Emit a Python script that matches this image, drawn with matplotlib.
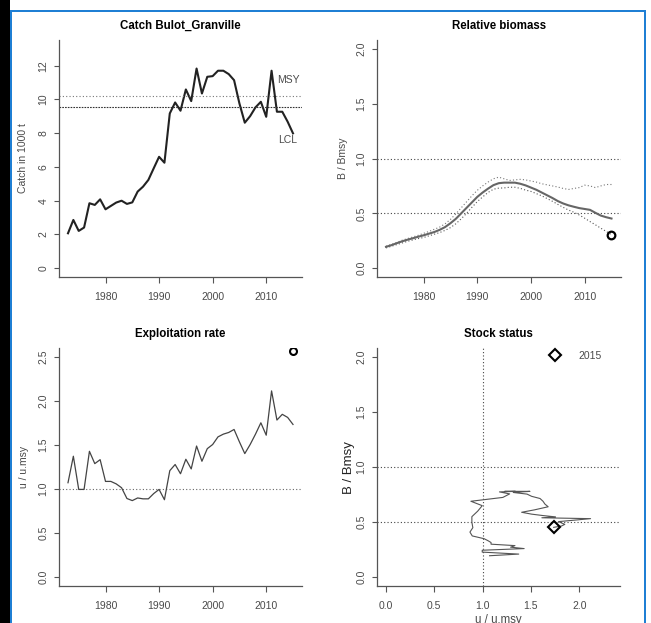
import matplotlib
matplotlib.use("Agg")
import matplotlib.pyplot as plt
from matplotlib.lines import Line2D
from matplotlib.patches import Rectangle

plt.rcParams["font.family"] = ["Liberation Sans", "DejaVu Sans"]

years = list(range(1973, 2016))

catch = [2.07, 2.86, 2.21, 2.41, 3.85, 3.75, 4.08, 3.49, 3.69, 3.89,
         4.00, 3.81, 3.90, 4.54, 4.83, 5.23, 5.92, 6.60, 6.25, 9.17,
         9.82, 9.33, 10.59, 9.90, 11.83, 10.35, 11.34, 11.38, 11.70, 11.70,
         11.50, 11.14, 9.76, 8.62, 9.01, 9.53, 9.86, 8.97, 11.70, 9.27,
         9.27, 8.68, 7.99]
msy = 10.22
lcl = 9.57

bbmsy = [0.195, 0.21, 0.228, 0.245, 0.26, 0.273, 0.287, 0.30, 0.315, 0.33,
         0.35, 0.375, 0.41, 0.45, 0.50, 0.55, 0.60, 0.65, 0.69, 0.725,
         0.757, 0.775, 0.78, 0.78, 0.78, 0.77, 0.755, 0.735, 0.715, 0.69,
         0.665, 0.64, 0.612, 0.59, 0.573, 0.56, 0.548, 0.54, 0.532, 0.505,
         0.48, 0.465, 0.453]
bbmsy_hi = [0.20, 0.217, 0.235, 0.255, 0.27, 0.285, 0.30, 0.318, 0.335, 0.355,
            0.375, 0.405, 0.445, 0.495, 0.55, 0.605, 0.66, 0.71, 0.75, 0.785,
            0.815, 0.83, 0.815, 0.80, 0.805, 0.81, 0.805, 0.795, 0.785, 0.77,
            0.76, 0.75, 0.74, 0.727, 0.718, 0.727, 0.735, 0.757, 0.75, 0.735,
            0.75, 0.763, 0.763]
bbmsy_lo = [0.185, 0.20, 0.215, 0.23, 0.245, 0.258, 0.27, 0.28, 0.295, 0.31,
            0.325, 0.345, 0.37, 0.405, 0.45, 0.50, 0.555, 0.607, 0.65, 0.69,
            0.72, 0.73, 0.732, 0.738, 0.738, 0.728, 0.712, 0.70, 0.68, 0.66,
            0.635, 0.61, 0.582, 0.555, 0.53, 0.51, 0.485, 0.456, 0.425, 0.396,
            0.365, 0.336, 0.306]
b_point = (2015, 0.30)

uumsy = [1.073, 1.374, 0.997, 0.997, 1.43, 1.29, 1.335, 1.088, 1.088, 1.06,
         1.016, 0.894, 0.87, 0.90, 0.89, 0.89, 0.95, 0.997, 0.88, 1.21,
         1.28, 1.175, 1.34, 1.23, 1.49, 1.317, 1.46, 1.507, 1.594, 1.625,
         1.644, 1.678, 1.537, 1.404, 1.507, 1.625, 1.754, 1.613, 2.116, 1.785,
         1.85, 1.815, 1.735]
u_point = (2015, 2.572)

W, H = 651, 623
fig = plt.figure(figsize=(W / 100, H / 100), dpi=100)

txt = "#4a4a4a"
axc = "#555555"
dot = (0, (1, 2))


def panel(x0, y0, x1, y1):
    ax = fig.add_axes([x0 / W, 1 - y1 / H, (x1 - x0) / W, (y1 - y0) / H])
    for s in ("top", "right"):
        ax.spines[s].set_visible(False)
    for s in ("left", "bottom"):
        ax.spines[s].set_color(axc)
        ax.spines[s].set_linewidth(0.9)
    ax.tick_params(colors=axc, labelcolor=txt, labelsize=7.5, width=0.8)
    ax.tick_params(axis="x", length=4.5, pad=6.5)
    ax.tick_params(axis="y", length=3.5, pad=4)
    return ax


def year_axis(ax):
    ax.set_xlim(1973 - 0.04 * 42, 2015 + 0.04 * 42)
    ax.set_xticks([1980, 1990, 2000, 2010])


def y_ticks(ax, ticks, fmt):
    ax.set_yticks(ticks, [fmt.format(t) for t in ticks], rotation=90, va="center")


# Catch
ax1 = panel(59, 40, 302, 277)
ax1.plot(years, catch, color="#222222", lw=1.5)
ax1.axhline(msy, color="#777777", lw=0.8, ls=dot)
ax1.axhline(lcl, color="#333333", lw=0.8, ls=(0, (1.5, 1)))
ax1.text(2012.1, 11.15, "MSY", color=txt, fontsize=7.5, ha="left", va="center")
ax1.text(2012.3, 7.6, "LCL", color=txt, fontsize=7.5, ha="left", va="center")
year_axis(ax1)
ax1.set_ylim(-0.52, 13.52)
y_ticks(ax1, [0, 2, 4, 6, 8, 10, 12], "{:d}")
ax1.set_title("Catch Bulot_Granville", fontsize=8.3, fontweight="bold", pad=8)
ax1.set_ylabel("Catch in 1000 t", color=txt, fontsize=7.5, labelpad=7.5)

# Relative biomass
ax2 = panel(377, 40, 620.5, 277)
ax2.axhline(1.0, color="#444444", lw=0.8, ls=dot)
ax2.axhline(0.5, color="#444444", lw=0.8, ls=dot)
ax2.plot(years, bbmsy_hi, color="#777777", lw=0.8, ls=dot)
ax2.plot(years, bbmsy_lo, color="#555555", lw=0.8, ls=dot)
ax2.plot(years, bbmsy, color="#666666", lw=1.5)
ax2.plot(*b_point, marker="o", ms=5.5, mfc="none", mec="black", mew=1.6, ls="none")
year_axis(ax2)
ax2.set_ylim(-0.08, 2.08)
y_ticks(ax2, [0.0, 0.5, 1.0, 1.5, 2.0], "{:.1f}")
ax2.set_title("Relative biomass", fontsize=8.3, fontweight="bold", pad=8)
ax2.set_ylabel("B / Bmsy", color=txt, fontsize=7.5, labelpad=6.5)

# Exploitation rate
ax3 = panel(59, 348.3, 302, 586)
ax3.axhline(1.0, color="#666666", lw=0.8, ls=dot)
ax3.plot(years, uumsy, color="#444444", lw=0.9)
ax3.plot(*u_point, marker="o", ms=5, mfc="none", mec="black", mew=1.5, ls="none")
year_axis(ax3)
ax3.set_ylim(-0.1, 2.6)
y_ticks(ax3, [0.0, 0.5, 1.0, 1.5, 2.0, 2.5], "{:.1f}")
ax3.set_title("Exploitation rate", fontsize=8.3, fontweight="bold", pad=8)
ax3.set_ylabel("u / u.msy", color=txt, fontsize=7.5, labelpad=7)

# Stock status
ax4 = panel(376.7, 348.3, 620, 586)
ax4.axhline(1.0, color="#444444", lw=0.8, ls=dot)
ax4.axhline(0.5, color="#444444", lw=0.8, ls=dot)
ax4.axvline(1.0, color="#444444", lw=0.8, ls=dot)
ax4.plot(uumsy, bbmsy, color="#555555", lw=0.8)
ax4.plot(uumsy[-1], bbmsy[-1], marker="D", ms=6.5, mfc="none", mec="black", mew=1.5, ls="none")
ax4.set_xlim(-0.093, 2.42)
ax4.set_ylim(-0.08, 2.08)
ax4.set_xticks([0.0, 0.5, 1.0, 1.5, 2.0], ["0.0", "0.5", "1.0", "1.5", "2.0"])
y_ticks(ax4, [0.0, 0.5, 1.0, 1.5, 2.0], "{:.1f}")
ax4.set_title("Stock status", fontsize=8.3, fontweight="bold", pad=8)
ax4.set_ylabel("B / Bmsy", color="#222222", fontsize=9.5, labelpad=1)
ax4.set_xlabel("u / u.msy", color=txt, fontsize=8.3, labelpad=2)
handle = Line2D([], [], marker="D", ms=6.5, mfc="none", mec="black", mew=1.5, ls="none")
ax4.legend([handle], [str(years[-1])], loc="center left", bbox_to_anchor=(0.713, 0.9676),
           frameon=False, fontsize=7.5, handlelength=1, handletextpad=1.7,
           borderpad=0, borderaxespad=0, labelcolor=txt)

# screenshot frame
fig.add_artist(Rectangle((0, 0), 10 / W, 1, transform=fig.transFigure, color="black", lw=0))
blue = "#1f7fd4"
fig.add_artist(Rectangle((10 / W, 0), 2 / W, 1 - 9.5 / H, transform=fig.transFigure, color=blue, lw=0))
fig.add_artist(Rectangle((10 / W, 1 - 11.5 / H), 636 / W, 2 / H, transform=fig.transFigure, color=blue, lw=0))
fig.add_artist(Rectangle((644 / W, 0), 2 / W, 1 - 9.5 / H, transform=fig.transFigure, color=blue, lw=0))

fig.savefig("out.png", dpi=100)
